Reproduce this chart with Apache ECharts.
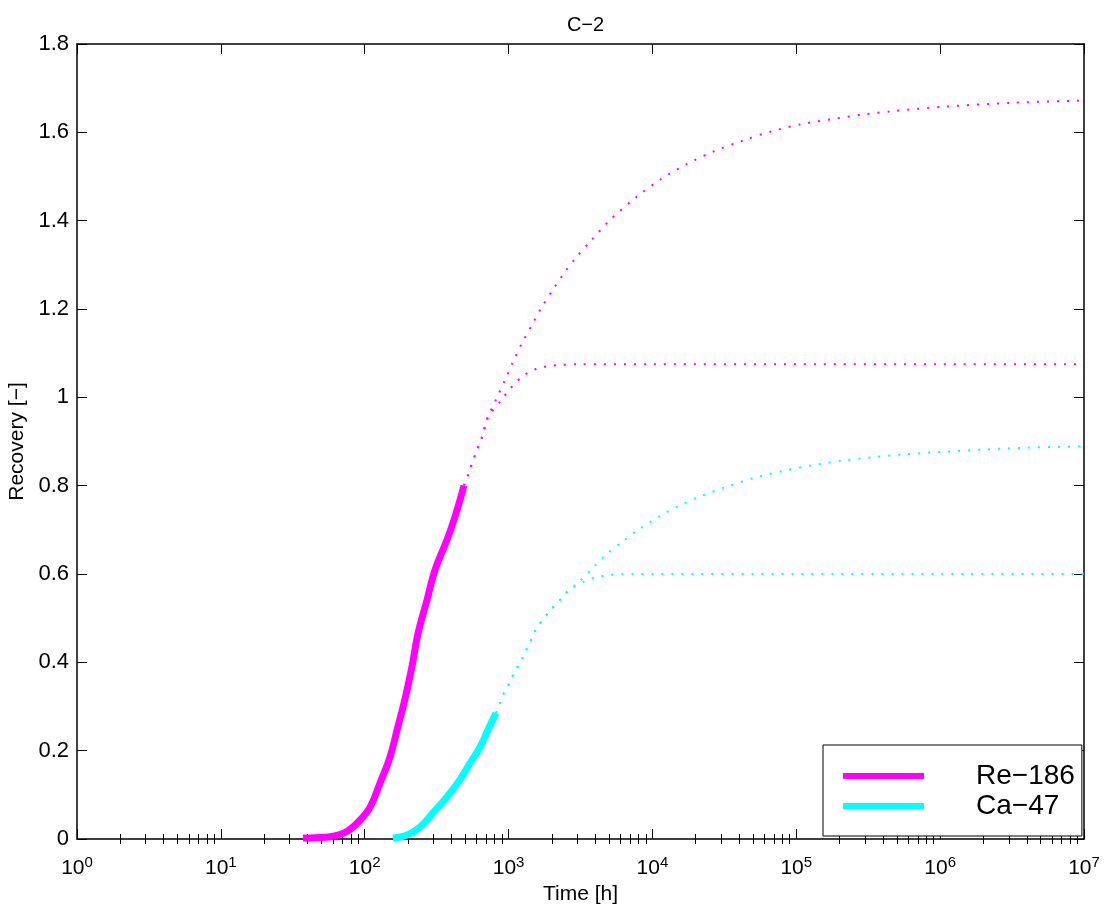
<!DOCTYPE html>
<html>
<head>
<meta charset="utf-8">
<title>C−2</title>
<script src="https://cdn.jsdelivr.net/npm/echarts@6/dist/echarts.min.js"></script>
<style>
  html, body { margin: 0; padding: 0; background: #fff; }
  #chart { width: 1107px; height: 910px; }
</style>
</head>
<body>
<div id="chart"></div>
<script>
// Re-186: measured recovery (solid)
const re186Time = [37.2, 45, 57.4, 75, 93, 109, 128, 150, 170, 190, 213, 235, 271, 308, 373, 424, 490];
const re186Rec  = [0.002, 0.003, 0.005, 0.017, 0.043, 0.072, 0.127, 0.186, 0.254, 0.315, 0.39, 0.466, 0.541, 0.609, 0.677, 0.729, 0.80];

// Ca-47: measured recovery (solid)
const ca47Time = [157, 197, 242, 298, 373, 459, 540, 633, 719, 818];
const ca47Rec  = [0.002, 0.009, 0.027, 0.059, 0.095, 0.134, 0.172, 0.208, 0.247, 0.285];

// Re-186 extrapolations (dotted), upper branch
const re186UpperTime = [490, 522, 584, 654, 719, 818, 944, 1079, 1245, 1455, 1698, 2028, 2428, 2974, 3680, 5130, 7770, 11470, 17590, 27200, 43100, 68500, 110700, 179000, 290000, 468000, 1.05e6, 3.2e6, 1e7];
const re186UpperRec  = [0.80, 0.824, 0.869, 0.910, 0.955, 0.995, 1.039, 1.082, 1.124, 1.164, 1.204, 1.243, 1.281, 1.318, 1.352, 1.403, 1.454, 1.494, 1.529, 1.558, 1.582, 1.603, 1.619, 1.630, 1.640, 1.648, 1.658, 1.667, 1.672];

// Re-186 extrapolations (dotted), lower branch
const re186LowerTime = [490, 522, 584, 654, 719, 885, 986, 1091, 1234, 1409, 1636, 1918, 2253, 3000, 1e4, 1e5, 1e6, 1e7];
const re186LowerRec  = [0.80, 0.824, 0.869, 0.910, 0.955, 0.992, 1.013, 1.029, 1.046, 1.058, 1.067, 1.071, 1.073, 1.075, 1.075, 1.075, 1.075, 1.075];

// Ca-47 extrapolations (dotted), upper branch
const ca47UpperTime = [818, 873, 929, 1007, 1073, 1164, 1260, 1343, 1432, 1527, 1871, 2339, 2600, 2974, 3782, 4733, 6110, 7980, 11400, 15230, 20500, 32400, 51600, 83000, 134000, 216000, 352000, 570000, 1.09e6, 2.08e6, 4.0e6, 1e7];
const ca47UpperRec  = [0.285, 0.308, 0.331, 0.351, 0.371, 0.392, 0.412, 0.432, 0.451, 0.471, 0.511, 0.545, 0.562, 0.577, 0.611, 0.643, 0.672, 0.700, 0.732, 0.754, 0.773, 0.797, 0.818, 0.834, 0.847, 0.857, 0.865, 0.871, 0.877, 0.882, 0.886, 0.889];

// Ca-47 extrapolations (dotted), lower branch
const ca47LowerTime = [818, 873, 929, 1007, 1073, 1164, 1260, 1343, 1432, 1527, 1871, 2339, 2600, 3450, 4030, 5000, 1e4, 1e5, 1e6, 1e7];
const ca47LowerRec  = [0.285, 0.308, 0.331, 0.351, 0.371, 0.392, 0.412, 0.432, 0.451, 0.471, 0.511, 0.545, 0.562, 0.585, 0.592, 0.598, 0.60, 0.60, 0.60, 0.60];

// Axis ticks
const xMajorTicks = [1, 10, 100, 1000, 1e4, 1e5, 1e6, 1e7];
const xMinorTicks = [];
for (let d = 0; d < 7; d++) {
  for (let m = 2; m <= 9; m++) xMinorTicks.push(m * Math.pow(10, d));
}
const yTickStep = 0.2;

const MAGENTA = '#ff00ff';
const CYAN = '#00ffff';
const FONT = '"Liberation Sans", Arial, Helvetica, sans-serif';

function pairs(xs, ys) { return xs.map((x, i) => [x, ys[i]]); }

const axisLineStyle = { color: '#000', width: 1.5 };

function logAxis(position, opts) {
  return Object.assign({
    type: 'log',
    logBase: 10,
    min: 1,
    max: 1e7,
    position: position,
    splitLine: { show: false },
    axisLine: { show: true, onZero: false, lineStyle: axisLineStyle },
    axisLabel: { show: false },
    axisTick: { show: true, inside: true, length: 10, lineStyle: { color: '#000', width: 1 }, customValues: xMajorTicks }
  }, opts);
}

function dotted(name, xs, ys, color) {
  return {
    name: name,
    type: 'line',
    data: pairs(xs, ys),
    showSymbol: false,
    smooth: 0.3,
    lineStyle: { color: color, width: 2, type: [2, 8] },
    z: 2
  };
}

function solid(name, xs, ys, color) {
  return {
    name: name,
    type: 'line',
    data: pairs(xs, ys),
    showSymbol: false,
    smooth: 0.4,
    itemStyle: { color: color },
    lineStyle: { color: color, width: 7, cap: 'butt' },
    z: 3
  };
}

const option = {
  animation: false,
  backgroundColor: '#fff',
  textStyle: { fontFamily: FONT, color: '#000' },
  title: {
    text: 'C−2',
    left: 580.5,
    textAlign: 'center',
    top: 10,
    textStyle: { fontFamily: FONT, fontSize: 20, fontWeight: 'normal', color: '#000' }
  },
  grid: { left: 77, right: 23, top: 44, bottom: 71, containLabel: false, outerBoundsMode: 'none' },
  legend: {
    data: ['Re−186', 'Ca−47'],
    orient: 'vertical',
    left: 823,
    top: 745,
    padding: [16, 7, 15, 20],
    itemGap: 0,
    itemWidth: 81,
    itemHeight: 6,
    icon: 'rect',
    borderColor: '#000',
    borderWidth: 1,
    borderRadius: 0,
    backgroundColor: '#fff',
    selectedMode: false,
    textStyle: { fontFamily: FONT, fontSize: 28, color: '#000', lineHeight: 30, padding: [0, 0, 0, 47] }
  },
  xAxis: [
    logAxis('bottom', {
      name: 'Time [h]',
      nameLocation: 'middle',
      nameGap: 45,
      nameTextStyle: { fontFamily: FONT, fontSize: 21, color: '#000' },
      axisLabel: {
        show: true,
        margin: 16,
        customValues: xMajorTicks,
        formatter: function (v) {
          const e = Math.round(Math.log10(v));
          return '{b|10}{s|' + e + '}';
        },
        rich: {
          b: { fontFamily: FONT, fontSize: 21, color: '#000' },
          s: { fontFamily: FONT, fontSize: 15, color: '#000', padding: [0, 0, 12, 0] }
        }
      }
    }),
    logAxis('bottom', {
      axisLine: { show: false },
      axisTick: { show: true, inside: true, length: 5, lineStyle: { color: '#000', width: 1 }, customValues: xMinorTicks }
    }),
    logAxis('top', {}),
    logAxis('top', {
      axisLine: { show: false },
      axisTick: { show: true, inside: true, length: 5, lineStyle: { color: '#000', width: 1 }, customValues: xMinorTicks }
    })
  ],
  yAxis: [
    {
      type: 'value',
      min: 0,
      max: 1.8,
      interval: yTickStep,
      position: 'left',
      name: 'Recovery [−]',
      nameLocation: 'middle',
      nameGap: 46,
      nameRotate: 90,
      nameTextStyle: { fontFamily: FONT, fontSize: 21, color: '#000' },
      splitLine: { show: false },
      axisLine: { show: true, onZero: false, lineStyle: axisLineStyle },
      axisTick: { show: true, inside: true, length: 10, lineStyle: { color: '#000', width: 1 } },
      axisLabel: { fontFamily: FONT, fontSize: 22, color: '#000', margin: 8 }
    },
    {
      type: 'value',
      min: 0,
      max: 1.8,
      interval: yTickStep,
      position: 'right',
      splitLine: { show: false },
      axisLine: { show: true, onZero: false, lineStyle: axisLineStyle },
      axisTick: { show: true, inside: true, length: 10, lineStyle: { color: '#000', width: 1 } },
      axisLabel: { show: false }
    }
  ],
  series: [
    dotted('Re−186 upper', re186UpperTime, re186UpperRec, MAGENTA),
    dotted('Re−186 lower', re186LowerTime, re186LowerRec, MAGENTA),
    dotted('Ca−47 upper', ca47UpperTime, ca47UpperRec, CYAN),
    dotted('Ca−47 lower', ca47LowerTime, ca47LowerRec, CYAN),
    solid('Re−186', re186Time, re186Rec, MAGENTA),
    solid('Ca−47', ca47Time, ca47Rec, CYAN)
  ]
};

const chart = echarts.init(document.getElementById('chart'), null, { renderer: 'canvas' });
chart.setOption(option);
</script>
</body>
</html>
